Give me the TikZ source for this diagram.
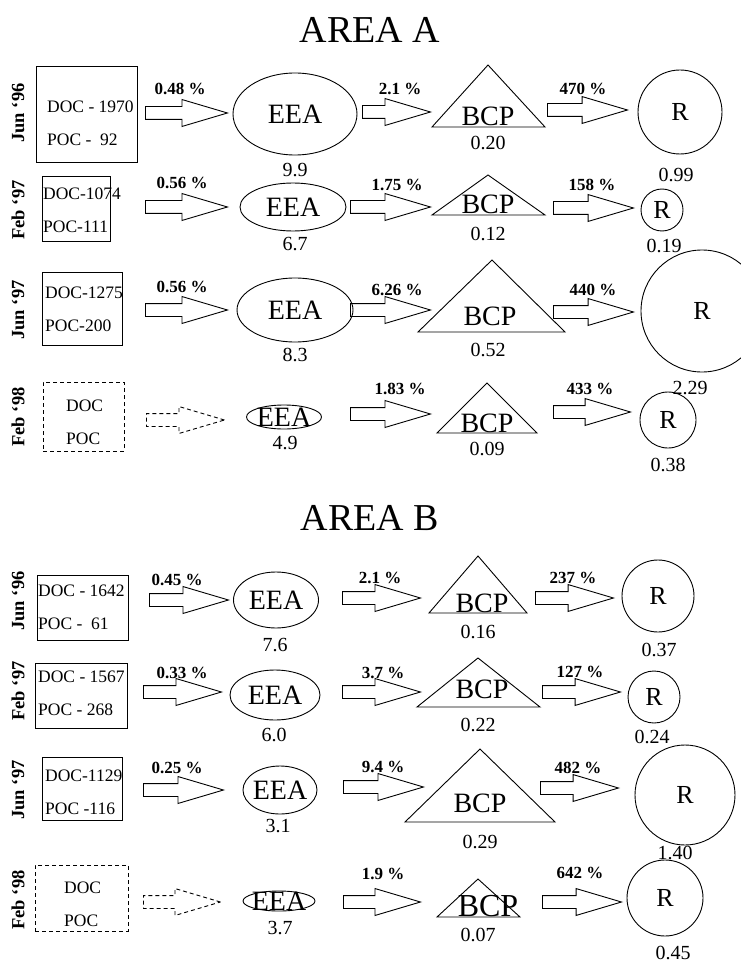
\documentclass[tikz,border=0pt]{standalone}
\usepackage{fontspec}
\setmainfont{Liberation Serif}
\usetikzlibrary{shapes.geometric,shapes.arrows}
\tikzset{
  docbox/.style = {draw, line width=0.9pt, inner sep=0pt},
  doctxt/.style = {anchor=west, align=left, inner sep=0pt,
                   font=\fontsize{17.5}{33}\selectfont},
  flow/.style   = {single arrow, draw, line width=0.9pt, anchor=tail,
                   inner xsep=0pt, inner ysep=6pt,
                   single arrow head extend=7pt,
                   single arrow tip angle=33},
  nodata/.style = {dash pattern=on 4pt off 3pt},
  eea/.style    = {ellipse, draw, line width=0.9pt, inner sep=0pt,
                   label={[big]center:EEA}},
  rnode/.style  = {circle, draw, line width=0.9pt, inner sep=0pt,
                   font=\fontsize{26}{26}\selectfont},
  tri/.style    = {line width=0.9pt, line join=miter},
  big/.style    = {inner sep=0pt, font=\fontsize{28}{28}\selectfont},
  val/.style    = {inner sep=0pt, font=\fontsize{20}{20}\selectfont},
  pct/.style    = {inner sep=0pt, font=\bfseries\fontsize{17}{17}\selectfont},
  dat/.style    = {inner sep=0pt, rotate=90,
                   font=\bfseries\fontsize{18.5}{18.5}\selectfont},
  ttl/.style    = {inner sep=0pt, font=\fontsize{38}{38}\selectfont},
}

\begin{document}
\begin{tikzpicture}[x=1pt, y=-1pt]
  \useasboundingbox (0,0) rectangle (740,968);

  \node[ttl] (ttlA) at (370,30) {AREA A};
  \node[ttl] (ttlB) at (370,518) {AREA B};

  \node[dat] (dA1) at (18,113) {Jun ‘96};
  \node[docbox, minimum width=101, minimum height=96] (sA1) at (86.5,114) {};
  \node[doctxt] (tA1) at (47,123) {DOC - 1970\\POC - \ 92};
  \node[flow, minimum height=82] (fA1a) at (145,113) {};
  \node[pct] (pA1a) at (180,89) {0.48 \%};
  \node[eea, minimum width=124, minimum height=82] (eA1) at (295,114) {};
  \node[val] (vA1e) at (295,170) {9.9};
  \node[flow, minimum height=68] (fA1b) at (362,112) {};
  \node[pct] (pA1b) at (400,89) {2.1 \%};
  \draw[tri] (432,127) -- (545,127) -- (488,65) -- cycle;
  \node[big, anchor=base] (bA1) at (488,126) {BCP};
  \node[val] (vA1b) at (488,143) {0.20};
  \node[flow, minimum height=80] (fA1c) at (547,110) {};
  \node[pct] (pA1c) at (583,89) {470 \%};
  \node[rnode, minimum size=84] (rA1) at (680,112) {R};
  \node[val] (vA1r) at (676,175) {0.99};

  \node[dat] (dA2) at (18,210) {Feb ‘97};
  \node[docbox, minimum width=68, minimum height=65] (sA2) at (76,208.5) {};
  \node[doctxt] (tA2) at (43,210) {DOC-1074\\POC-111};
  \node[flow, minimum height=82] (fA2a) at (145,207) {};
  \node[pct] (pA2a) at (182,183) {0.56 \%};
  \node[eea, minimum width=106, minimum height=48] (eA2) at (293,207) {};
  \node[val] (vA2e) at (295,244) {6.7};
  \node[flow, minimum height=80] (fA2b) at (350,207) {};
  \node[pct] (pA2b) at (397,185) {1.75 \%};
  \draw[tri] (432,215) -- (545,215) -- (488,175) -- cycle;
  \node[big, anchor=base] (bA2) at (488,214) {BCP};
  \node[val] (vA2b) at (488,234) {0.12};
  \node[flow, minimum height=80] (fA2c) at (553,208) {};
  \node[pct] (pA2c) at (592,185) {158 \%};
  \node[rnode, minimum size=42] (rA2) at (662,210) {R};
  \node[val] (vA2r) at (664,246) {0.19};

  \node[dat] (dA3) at (18,310) {Jun ‘97};
  \node[docbox, minimum width=80, minimum height=73] (sA3) at (82,308.5) {};
  \node[doctxt] (tA3) at (45,309) {DOC-1275\\POC-200};
  \node[flow, minimum height=82] (fA3a) at (145,310) {};
  \node[pct] (pA3a) at (182,287) {0.56 \%};
  \node[eea, minimum width=116, minimum height=64] (eA3) at (295,310) {};
  \node[val] (vA3e) at (295,355) {8.3};
  \node[flow, minimum height=80] (fA3b) at (350,310) {};
  \node[pct] (pA3b) at (397,290) {6.26 \%};
  \draw[tri] (418,332) -- (565,332) -- (492,260) -- cycle;
  \node[big, anchor=base] (bA3) at (490,325) {BCP};
  \node[val] (vA3b) at (488,350) {0.52};
  \node[flow, minimum height=80] (fA3c) at (553,312) {};
  \node[pct] (pA3c) at (593,290) {440 \%};
  \node[rnode, minimum size=122] (rA3) at (702,311) {R};
  \node[val] (vA3r) at (690,388) {2.29};

  \node[dat] (dA4) at (18,417) {Feb ‘98};
  \node[docbox, nodata, minimum width=81, minimum height=69] (sA4) at (83.5,416.5) {};
  \node[doctxt] (tA4) at (66,422) {DOC\\POC};
  \node[flow, nodata, minimum height=78] (fA4a) at (146,420) {};
  \node[eea, minimum width=75, minimum height=24] (eA4) at (284,417) {};
  \node[val] (vA4e) at (285,443) {4.9};
  \node[flow, minimum height=80] (fA4b) at (350,414) {};
  \node[pct] (pA4b) at (400,389) {1.83 \%};
  \draw[tri] (437,433) -- (537,433) -- (487,383) -- cycle;
  \node[big, anchor=base] (bA4) at (487,432) {BCP};
  \node[val] (vA4b) at (487,449) {0.09};
  \node[flow, minimum height=77] (fA4c) at (553,412) {};
  \node[pct] (pA4c) at (590,389) {433 \%};
  \node[rnode, minimum size=56] (rA4) at (668,420) {R};
  \node[val] (vA4r) at (668,465) {0.38};

  \node[dat] (dB1) at (18,601) {Jun ‘96};
  \node[docbox, minimum width=91, minimum height=65] (sB1) at (82.5,607.5) {};
  \node[doctxt] (tB1) at (38,607) {DOC - 1642\\POC - \ 61};
  \node[flow, minimum height=79] (fB1a) at (149,600) {};
  \node[pct] (pB1a) at (177,580) {0.45 \%};
  \node[eea, minimum width=85, minimum height=56] (eB1) at (276,600) {};
  \node[val] (vB1e) at (275,645) {7.6};
  \node[flow, minimum height=78] (fB1b) at (342,598) {};
  \node[pct] (pB1b) at (380,578) {2.1 \%};
  \draw[tri] (429,613) -- (527,613) -- (478,556) -- cycle;
  \node[big, anchor=base] (bB1) at (482,612) {BCP};
  \node[val] (vB1b) at (478,632) {0.16};
  \node[flow, minimum height=78] (fB1c) at (535,598) {};
  \node[pct] (pB1c) at (573,578) {237 \%};
  \node[rnode, minimum size=72] (rB1) at (658,596) {R};
  \node[val] (vB1r) at (659,650) {0.37};

  \node[dat] (dB2) at (18,691) {Feb ‘97};
  \node[docbox, minimum width=92, minimum height=65] (sB2) at (81,695.5) {};
  \node[doctxt] (tB2) at (38,693) {DOC - 1567\\POC - 268};
  \node[flow, minimum height=78] (fB2a) at (143,692) {};
  \node[pct] (pB2a) at (182,673) {0.33 \%};
  \node[eea, minimum width=90, minimum height=50] (eB2) at (275,695) {};
  \node[val] (vB2e) at (274,735) {6.0};
  \node[flow, minimum height=78] (fB2b) at (342,692) {};
  \node[pct] (pB2b) at (383,673) {3.7 \%};
  \draw[tri] (417,707) -- (540,707) -- (478,658) -- cycle;
  \node[big, anchor=base] (bB2) at (482,698) {BCP};
  \node[val] (vB2b) at (478,725) {0.22};
  \node[flow, minimum height=78] (fB2c) at (542,692) {};
  \node[pct] (pB2c) at (580,672) {127 \%};
  \node[rnode, minimum size=52] (rB2) at (654,697) {R};
  \node[val] (vB2r) at (652,737) {0.24};

  \node[dat] (dB3) at (18,790) {Jun ‘97};
  \node[docbox, minimum width=80, minimum height=63] (sB3) at (82,788.5) {};
  \node[doctxt] (tB3) at (45,792) {DOC-1129\\POC -116};
  \node[flow, minimum height=80] (fB3a) at (143,790) {};
  \node[pct] (pB3a) at (177,768) {0.25 \%};
  \node[eea, minimum width=74, minimum height=48] (eB3) at (280,790) {};
  \node[val] (vB3e) at (278,826) {3.1};
  \node[flow, minimum height=80] (fB3b) at (343,787) {};
  \node[pct] (pB3b) at (383,767) {9.4 \%};
  \draw[tri] (405,822) -- (555,822) -- (480,749) -- cycle;
  \node[big, anchor=base] (bB3) at (480,812) {BCP};
  \node[val] (vB3b) at (480,842) {0.29};
  \node[flow, minimum height=78] (fB3c) at (540,788) {};
  \node[pct] (pB3c) at (578,768) {482 \%};
  \node[rnode, minimum size=100] (rB3) at (685,795) {R};
  \node[val] (vB3r) at (675,853) {1.40};

  \node[dat] (dB4) at (18,900) {Feb ‘98};
  \node[docbox, nodata, minimum width=93, minimum height=66] (sB4) at (81.5,898) {};
  \node[doctxt] (tB4) at (64,904) {DOC\\POC};
  \node[flow, nodata, minimum height=77] (fB4a) at (143,902) {};
  \node[eea, minimum width=72, minimum height=20] (eB4) at (279,901) {};
  \node[val] (vB4e) at (280,928) {3.7};
  \node[flow, minimum height=77] (fB4b) at (343,902) {};
  \node[pct] (pB4b) at (383,874) {1.9 \%};
  \draw[tri] (437,917) -- (520,917) -- (478,879) -- cycle;
  \node[big, anchor=base, font=\fontsize{32}{32}\selectfont] (bB4) at (488,916) {BCP};
  \node[val] (vB4b) at (478,935) {0.07};
  \node[flow, minimum height=79] (fB4c) at (542,902) {};
  \node[pct] (pB4c) at (580,873) {642 \%};
  \node[rnode, minimum size=76] (rB4) at (665,898) {R};
  \node[val] (vB4r) at (673,953) {0.45};
\end{tikzpicture}
\end{document}
